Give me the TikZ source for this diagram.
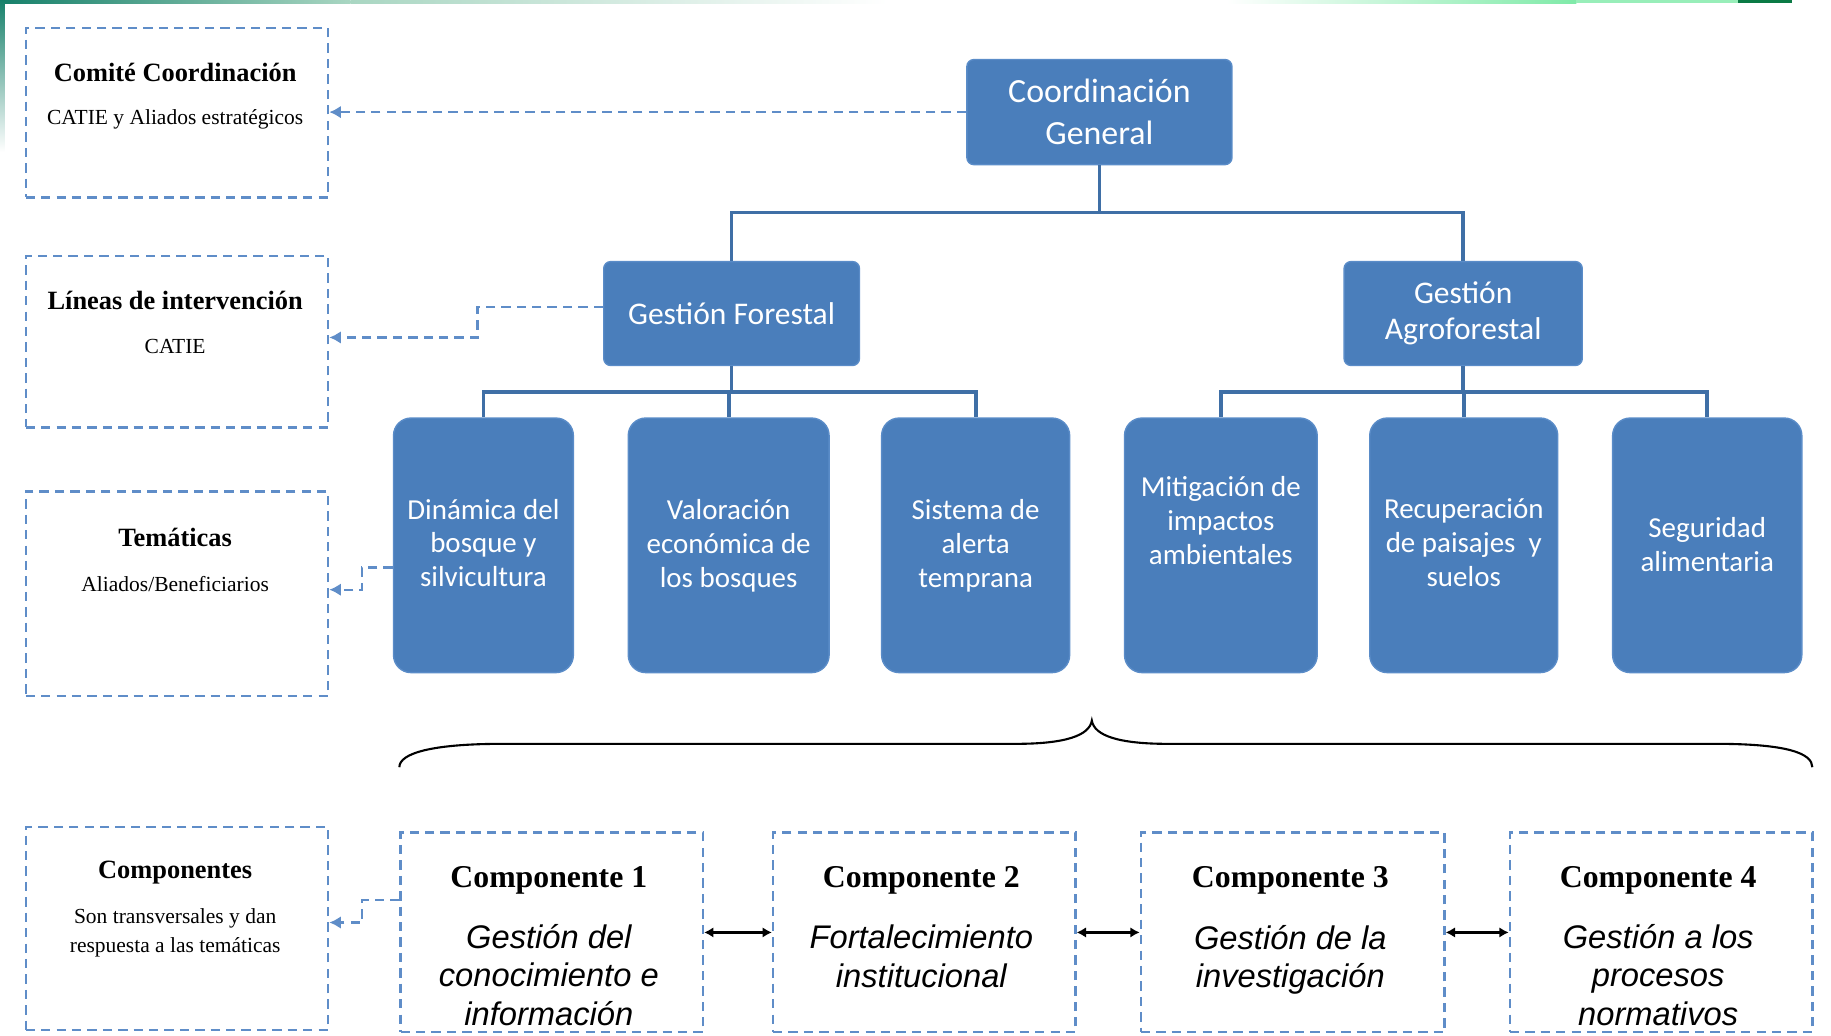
\documentclass[tikz,border=0pt]{standalone}
\usepackage{fontspec}
\setmainfont{Liberation Serif}
\newfontfamily\calibri{Carlito}
\newfontfamily\arialf{Liberation Sans}
\usetikzlibrary{arrows.meta}
\definecolor{boxblue}{HTML}{4A7EBB}
\definecolor{boxedge}{HTML}{5A8CC8}
\definecolor{lineblue}{HTML}{3F6FA6}
\definecolor{dashblue}{HTML}{5F8DC8}
\definecolor{gA}{HTML}{16806A}
\definecolor{gB}{HTML}{A9D6C2}
\definecolor{gC}{HTML}{7FEAA8}
\definecolor{gD}{HTML}{0B7A45}
\tikzset{
  bbox/.style={draw=boxedge, line width=0.6pt, fill=boxblue, text=white, align=center, inner sep=2pt},
  topbox/.style={bbox, rounded corners=3pt},
  thembox/.style={bbox, rounded corners=7.5pt, minimum height=109pt},
  dbox/.style={draw=dashblue, line width=1pt, dash pattern=on 4pt off 2.6pt},
  tree/.style={draw=lineblue, line width=1.6pt},
  dconn/.style={draw=dashblue, line width=1pt, dash pattern=on 4pt off 2.6pt, -{Latex[length=5pt,width=5.5pt]}},
  dbl/.style={draw=black, line width=1pt, {Latex[length=4pt,width=4.5pt]}-{Latex[length=4pt,width=4.5pt]}},
  lvl2/.style={font=\calibri\fontsize{13.5}{15.5}\selectfont},
  lvl3/.style={font=\calibri\fontsize{12.4}{14.5}\selectfont, text=white, align=center, inner sep=0pt},
  ttl/.style={font=\bfseries\fontsize{11.3}{13}\selectfont, inner sep=0pt},
  sub/.style={font=\fontsize{9.2}{12.5}\selectfont, align=center, inner sep=0pt},
  ctitle/.style={font=\bfseries\fontsize{13.6}{16}\selectfont, inner sep=0pt},
  ctext/.style={font=\arialf\itshape\fontsize{14}{16.5}\selectfont, align=center, inner sep=0pt}
}
\begin{document}
\begin{tikzpicture}[x=0.5pt,y=-0.5pt]
\useasboundingbox (0,0) rectangle (1568,887);
\fill[white] (0,0) rectangle (1568,887);
% slide decoration
\shade[left color=gA, right color=gB] (0,0) rectangle (300,3);
\shade[left color=gB, right color=white] (300,0) rectangle (760,3);
\shade[left color=white, right color=gC] (1050,0) rectangle (1350,3);
\fill[gC!80!white] (1350,0) rectangle (1488,3);
\fill[gD] (1488,0) rectangle (1535,3);
\shade[top color=gA, bottom color=white] (0,0) rectangle (4,130);

% top hierarchy
\node[topbox, minimum width=113.5pt, minimum height=45pt, font=\calibri\fontsize{14.5}{18}\selectfont] (CG) at (941.5,96) {Coordinación\\General};
\node[topbox, lvl2, minimum width=109.5pt, minimum height=44.5pt] (GF) at (626.5,268.5) {Gestión Forestal};
\node[topbox, lvl2, minimum width=102pt, minimum height=44.5pt] (GA) at (1253,268.5) {Gestión\\Agroforestal};

% thematic boxes
\node[thembox, minimum width=77pt] (D) at (414,467) {};
\node[thembox, minimum width=86pt] (V) at (624,467) {};
\node[thembox, minimum width=80.5pt] (S) at (835.5,467) {};
\node[thembox, minimum width=82.5pt] (M) at (1045.5,467) {};
\node[thembox, minimum width=80.5pt] (R) at (1253.5,467) {};
\node[thembox, minimum width=81pt] (Se) at (1462,467) {};
\node[lvl3] (Dt) at (414,465) {Dinámica del\\bosque y\\silvicultura};
\node[lvl3] (Vt) at (624,467.5) {Valoración\\económica de\\los bosques};
\node[lvl3] (St) at (835.5,467.5) {Sistema de\\alerta\\temprana};
\node[lvl3] (Mt) at (1045.5,446) {Mitigación de\\impactos\\ambientales};
\node[lvl3] (Rt) at (1253.5,465) {Recuperación\\de paisajes\ \ y\\suelos};
\node[lvl3] (Set) at (1462,466) {Seguridad\\alimentaria};

% tree connectors
\coordinate (j0) at (941.5,182);
\draw[tree] (CG.south) -- (j0);
\draw[tree] (j0) -| (GF.north);
\draw[tree] (j0) -| (GA.north);
\coordinate (j1) at (626.5,336);
\draw[tree] (GF.south) -- (j1);
\draw[tree] (j1) -| (D.north);
\draw[tree] (j1) -| (V.north);
\draw[tree] (j1) -| (S.north);
\coordinate (j2) at (1253,336);
\draw[tree] (GA.south) -- (j2);
\draw[tree] (j2) -| (M.north);
\draw[tree] (j2) -| (R.north);
\draw[tree] (j2) -| (Se.north);

% left dashed boxes
\node[dbox, minimum width=129.5pt, minimum height=72.5pt] (B1) at (151.5,96.5) {};
\node[dbox, minimum width=129.5pt, minimum height=73.5pt] (B2) at (151.5,292.5) {};
\node[dbox, minimum width=129.5pt, minimum height=87.5pt] (B3) at (151.5,508.5) {};
\node[dbox, minimum width=129.5pt, minimum height=87pt] (B4) at (151.5,795) {};
\node[ttl] (B1t) at (150,62) {Comité Coordinación};
\node[sub] (B1s) at (150,102) {CATIE y Aliados estratégicos};
\node[ttl] (B2t) at (150,257) {Líneas de intervención};
\node[sub] (B2s) at (150,297) {CATIE};
\node[ttl] (B3t) at (150,460) {Temáticas};
\node[sub] (B3s) at (150,500) {Aliados/Beneficiarios};
\node[ttl] (B4t) at (150,747) {Componentes};
\node[sub] (B4s) at (150,799) {Son transversales y dan\\respuesta a las temáticas};

% dashed connectors
\draw[dconn] (CG.west) -- (B1.east |- CG.west);
\draw[dconn] (GF.west |- 0,263) -- (409,263) -- (409,289) -- (B2.east |- 0,289);
\draw[dconn] (D.west |- 0,486) -- (310,486) -- (310,505) -- (B3.east |- 0,505);

% brace
\draw[black, line width=0.9pt] (342,657) .. controls (342,645) and (370,637) .. (430,637) -- (870,637) .. controls (912,637) and (933,630) .. (935,617) .. controls (937,630) and (958,637) .. (1000,637) -- (1470,637) .. controls (1530,637) and (1552,645) .. (1552,657);

% components
\node[dbox, minimum width=129.5pt, minimum height=85.5pt] (C1) at (472.5,798.5) {};
\node[dbox, minimum width=129.5pt, minimum height=85.5pt] (C2) at (791.5,798.5) {};
\node[dbox, minimum width=130pt, minimum height=85.5pt] (C3) at (1107,798.5) {};
\node[dbox, minimum width=129.5pt, minimum height=85.5pt] (C4) at (1422.5,798.5) {};
\node[ctitle] (C1t) at (470,753.5) {Componente 1};
\node[ctitle] (C2t) at (789,753.5) {Componente 2};
\node[ctitle] (C3t) at (1105,753.5) {Componente 3};
\node[ctitle] (C4t) at (1420,753.5) {Componente 4};
\node[ctext] (C1x) at (470,835) {Gestión del\\conocimiento e\\información};
\node[ctext] (C2x) at (789,819) {Fortalecimiento\\institucional};
\node[ctext] (C3x) at (1105,822) {Gestión de la\\investigación};
\node[ctext] (C4x) at (1420,835) {Gestión a los\\procesos\\normativos};
\draw[dbl] (C1.east) -- (C2.west);
\draw[dbl] (C2.east) -- (C3.west);
\draw[dbl] (C3.east) -- (C4.west);
\draw[dconn] (C1.west |- 0,771) -- (310,771) -- (310,790) -- (B4.east |- 0,790);
\end{tikzpicture}
\end{document}
